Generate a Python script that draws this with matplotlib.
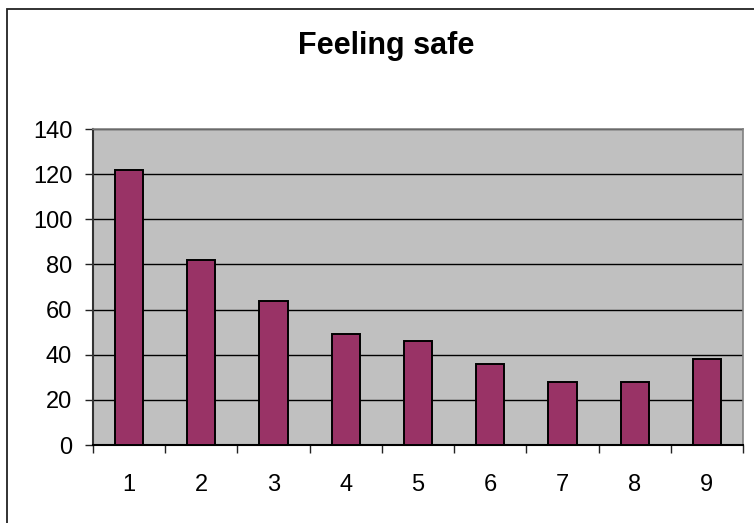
import matplotlib
matplotlib.use("Agg")
import matplotlib.pyplot as plt
from matplotlib.patches import Rectangle

# data
categories = ["1", "2", "3", "4", "5", "6", "7", "8", "9"]
values = [122, 82, 64, 49, 46, 36, 28, 28, 38]
yticks = [0, 20, 40, 60, 80, 100, 120, 140]

BAR = "#993366"
BG = "#C0C0C0"

plt.rcParams["font.family"] = ["Liberation Sans", "Arial", "DejaVu Sans"]

W, H = 754, 523
fig = plt.figure(figsize=(W / 100, H / 100), dpi=100)
ax = fig.add_axes([93 / W, 1 - 445 / H, (743 - 93) / W, (445 - 129) / H])
ax.set_facecolor(BG)

x = list(range(1, len(values) + 1))
ax.bar(x, values, width=0.39, color=BAR, edgecolor="black", linewidth=1.4, zorder=3)

ax.set_xlim(0.5, len(values) + 0.5)
ax.set_ylim(0, 140)
ax.set_yticks(yticks)
ax.set_yticklabels([str(v) for v in yticks])
ax.set_xticks(x)
ax.set_xticklabels(categories)
ax.set_xticks([i + 0.5 for i in range(0, len(values) + 1)], minor=True)

ax.yaxis.grid(True, color="black", linewidth=1.0, zorder=1)
ax.set_axisbelow(True)

ax.tick_params(axis="y", direction="out", length=6, width=1, color="#222222",
               labelsize=17, pad=9)
ax.tick_params(axis="x", which="major", length=0, labelsize=17, pad=21)
ax.tick_params(axis="x", which="minor", direction="out", length=6, width=1,
               color="#222222")

for s in ("top", "right"):
    ax.spines[s].set_color("#808080")
    ax.spines[s].set_linewidth(1.2)
ax.spines["left"].set_color("#333333")
ax.spines["left"].set_linewidth(1.5)
ax.spines["bottom"].set_color("black")
ax.spines["bottom"].set_linewidth(1.5)

fig.text(386 / W, 1 - 46 / H, "Feeling safe", ha="center", va="center",
         fontsize=22, fontweight="bold")

# chart area frame, cut off at right and bottom as in the reference
fig.patches.append(Rectangle((7 / W, -0.05), 1.2, 1 - 9 / H + 0.05,
                             transform=fig.transFigure, fill=False,
                             edgecolor="#222222", linewidth=1.3))

fig.savefig("out.png", dpi=100, facecolor="white")
